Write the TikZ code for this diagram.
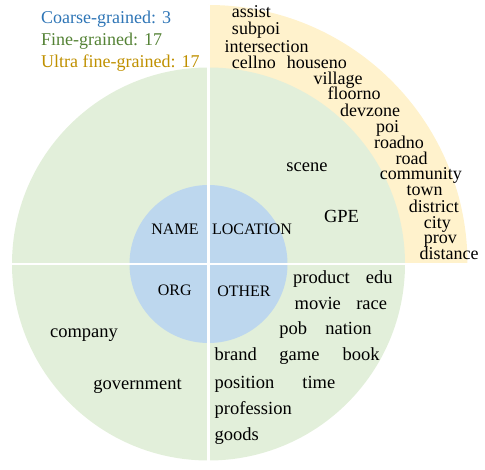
\documentclass[tikz,border=0pt]{standalone}
\usepackage{fontspec}
\setmainfont{Liberation Serif}
\usepackage{xcolor}
\usepackage{tikz}

\definecolor{coarsefill}{HTML}{BDD7EE}
\definecolor{finefill}{HTML}{E2EFDA}
\definecolor{ultrafill}{HTML}{FFF2CC}
\definecolor{coarsetext}{HTML}{2E75B6}
\definecolor{finetext}{HTML}{548235}
\definecolor{ultratext}{HTML}{BF9000}

\begin{document}
\begin{tikzpicture}[x=1pt, y=1pt,
  coarse/.style={anchor=base, inner sep=0pt, font=\fontsize{16}{18}\selectfont},
  fine/.style  ={anchor=base, inner sep=0pt, font=\fontsize{18.5}{20}\selectfont},
  ultra/.style ={anchor=base, inner sep=0pt, font=\fontsize{18}{19}\selectfont},
  legend/.style={anchor=base west, inner sep=0pt, font=\fontsize{18}{20}\selectfont},
  sep/.style   ={white, line width=2.5pt}
]
\useasboundingbox (0,0) rectangle (485,469);
\coordinate (c) at (208.5,205);

%% ── Rings ────────────────────────────────────────────────────────────
\fill[ultrafill] (c) -- ++(259,0) arc[start angle=0, end angle=90, radius=259] -- cycle;
\fill[finefill]  (c) circle[radius=196.5];
\fill[coarsefill] (c) circle[radius=79];

\draw[sep] ([yshift=259pt]c) -- ([yshift=-196.5pt]c);
\draw[sep] ([xshift=-196.5pt]c) -- ([xshift=259pt]c);

%% ── Legend ───────────────────────────────────────────────────────────
\node[legend, coarsetext] (kcoarse) at (41,445.7) {Coarse-grained: 3};
\node[legend, finetext]   (kfine)   at (41,423.3) {Fine-grained: 17};
\node[legend, ultratext]  (kultra)  at (41,401.3) {Ultra fine-grained: 17};

%% ── Coarse-grained ───────────────────────────────────────────────────
\node[coarse] (name)  at (175,234.7)   {NAME};
\node[coarse] (loc)   at (252,234.7)   {LOCATION};
\node[coarse] (org)   at (174.8,173)   {ORG};
\node[coarse] (other) at (244,172.5)   {OTHER};

%% ── Fine-grained ─────────────────────────────────────────────────────
\node[fine] (scene)   at (307,297.3)   {scene};
\node[fine] (gpe)     at (341.5,246.3) {GPE};
\node[fine] (company) at (84,131.7)    {company};
\node[fine] (govt)    at (137.5,79)    {government};
\node[fine] (product) at (321.5,185.7) {product};
\node[fine] (edu)     at (379.2,185.7) {edu};
\node[fine] (movie)   at (317.8,159.7) {movie};
\node[fine] (race)    at (371.7,159.7) {race};
\node[fine] (pob)     at (293.2,134)   {pob};
\node[fine] (nation)  at (348.5,134)   {nation};
\node[fine] (game)    at (299.5,108)   {game};
\node[fine] (book)    at (361,108)     {book};
\node[fine] (time)    at (318.8,80)    {time};
\node[fine, anchor=base west] (brand)      at (214.5,108)  {brand};
\node[fine, anchor=base west] (position)   at (214.5,80.7) {position};
\node[fine, anchor=base west] (profession) at (214.5,55)   {profession};
\node[fine, anchor=base west] (goods)      at (214.5,29)   {goods};

%% ── Ultra fine-grained ───────────────────────────────────────────────
\node[ultra] (assist)  at (251.3,451)   {assist};
\node[ultra] (subpoi)  at (256,434)     {subpoi};
\node[ultra] (inter)   at (266.7,416.7) {intersection};
\node[ultra] (cellno)  at (253.8,400)   {cellno};
\node[ultra] (houseno) at (316.8,400)   {houseno};
\node[ultra] (village) at (338,384.5)   {village};
\node[ultra] (floorno) at (354,369)     {floorno};
\node[ultra] (devzone) at (370,352.3)   {devzone};
\node[ultra] (poi)     at (387.7,336.3) {poi};
\node[ultra] (roadno)  at (399,320.7)   {roadno};
\node[ultra] (road)    at (411.7,304.7) {road};
\node[ultra] (comm)    at (420.8,289)   {community};
\node[ultra] (town)    at (424.7,273)   {town};
\node[ultra] (district) at (433.8,256.7) {district};
\node[ultra] (city)    at (437.3,240)   {city};
\node[ultra] (prov)    at (440.3,225.7) {prov};
\node[ultra] (dist)    at (449,209)     {distance};

\end{tikzpicture}
\end{document}
